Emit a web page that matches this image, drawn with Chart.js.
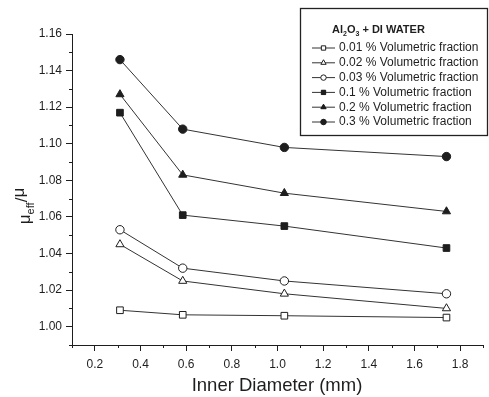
<!DOCTYPE html>
<html>
<head>
<meta charset="utf-8">
<script src="https://cdn.jsdelivr.net/npm/chart.js@4"></script>
<style>
  body { margin: 0; background: #fff; }
  #wrap { width: 489px; height: 397px; }
</style>
</head>
<body>
<div id="wrap"><canvas id="viscChart" width="489" height="397"></canvas></div>
<script>
// inner diameter (mm)
const diameters = [0.31, 0.585, 1.03, 1.74];

// relative viscosity mu_eff / mu
const frac001 = [1.009, 1.0065, 1.006, 1.005];
const frac002 = [1.045, 1.025, 1.018, 1.010];
const frac003 = [1.053, 1.032, 1.025, 1.018];
const frac01 = [1.117, 1.061, 1.055, 1.043];
const frac02 = [1.127, 1.083, 1.073, 1.063];
const frac03 = [1.146, 1.108, 1.098, 1.093];

const seriesLabels = [
    "0.01 % Volumetric fraction",
    "0.02 % Volumetric fraction",
    "0.03 % Volumetric fraction",
    "0.1 % Volumetric fraction",
    "0.2 % Volumetric fraction",
    "0.3 % Volumetric fraction"
];

const xTicks = [0.2, 0.4, 0.6, 0.8, 1.0, 1.2, 1.4, 1.6, 1.8];
const yTicks = [1.00, 1.02, 1.04, 1.06, 1.08, 1.10, 1.12, 1.14, 1.16];
const xMinor = [0.1, 0.3, 0.5, 0.7, 0.9, 1.1, 1.3, 1.5, 1.7, 1.9];
const yMinor = [0.99, 1.01, 1.03, 1.05, 1.07, 1.09, 1.11, 1.13, 1.15];

const ink = "#1e1e1e";
const font = "'Liberation Sans', Arial, sans-serif";

const styles = [
    { shape: "rect", filled: false, r: 4.7 },
    { shape: "triangle", filled: false, r: 4.7 },
    { shape: "circle", filled: false, r: 4.2 },
    { shape: "rect", filled: true, r: 4.7 },
    { shape: "triangle", filled: true, r: 4.7 },
    { shape: "circle", filled: true, r: 4.2 }
];

const allSeries = [frac001, frac002, frac003, frac01, frac02, frac03];

const datasets = allSeries.map((vals, i) => ({
    label: seriesLabels[i],
    data: vals.map((v, j) => ({ x: diameters[j], y: v })),
    borderColor: "#333",
    borderWidth: 1,
    pointStyle: styles[i].shape,
    pointRadius: styles[i].r,
    pointBackgroundColor: styles[i].filled ? ink : "#fff",
    pointBorderColor: ink,
    pointBorderWidth: 1,
    tension: 0
}));

const extras = {
    id: "extras",
    afterDraw(chart) {
        const ctx = chart.ctx;
        const xs = chart.scales.x, ys = chart.scales.y;
        ctx.save();
        ctx.strokeStyle = ink;
        ctx.lineWidth = 1;
        // minor ticks
        ctx.beginPath();
        xMinor.forEach(v => {
            const px = Math.round(xs.getPixelForValue(v)) + 0.5;
            ctx.moveTo(px, xs.top);
            ctx.lineTo(px, xs.top + 3);
        });
        yMinor.forEach(v => {
            const py = Math.round(ys.getPixelForValue(v)) + 0.5;
            ctx.moveTo(ys.right, py);
            ctx.lineTo(ys.right - 3, py);
        });
        ctx.stroke();

        // x title
        ctx.fillStyle = ink;
        ctx.font = "18.5px " + font;
        ctx.textAlign = "center";
        ctx.textBaseline = "middle";
        ctx.fillText("Inner Diameter (mm)", 277, 386);

        // y title: mu_eff / mu, rotated
        ctx.save();
        ctx.translate(25, 206);
        ctx.rotate(-Math.PI / 2);
        ctx.textAlign = "left";
        ctx.textBaseline = "alphabetic";
        ctx.font = "17px " + font;
        const w1 = ctx.measureText("\u03bc").width;
        ctx.font = "11px " + font;
        const w2 = ctx.measureText("eff").width;
        ctx.font = "17px " + font;
        const w3 = ctx.measureText("/\u03bc").width;
        let sx = -(w1 + w2 + w3) / 2;
        ctx.fillText("\u03bc", sx, 5);
        ctx.font = "11px " + font;
        ctx.fillText("eff", sx + w1, 9);
        ctx.font = "17px " + font;
        ctx.fillText("/", sx + w1 + w2, 2);
        ctx.fillText("\u03bc", sx + w1 + w2 + ctx.measureText("/").width, -1);
        ctx.restore();

        // legend box
        const bx = 300, by = 8, bw = 187, bh = 127;
        ctx.strokeStyle = "#222";
        ctx.lineWidth = 1.3;
        ctx.strokeRect(bx + 0.5, by + 0.5, bw, bh);
        ctx.lineWidth = 1;

        // legend title Al2O3 + DI WATER
        ctx.textAlign = "left";
        ctx.textBaseline = "alphabetic";
        let tx = 332;
        const ty = 33;
        const parts = [["Al", 0], ["2", 1], ["O", 0], ["3", 1], [" + DI WATER", 0]];
        parts.forEach(p => {
            ctx.font = p[1] ? "bold 7px " + font : "bold 11px " + font;
            ctx.fillText(p[0], tx, p[1] ? ty + 3 : ty);
            tx += ctx.measureText(p[0]).width;
        });

        // legend entries
        ctx.font = "12px " + font;
        ctx.textBaseline = "middle";
        seriesLabels.forEach((lab, i) => {
            const ly = 48 + i * 14.8;
            ctx.strokeStyle = "#333";
            ctx.beginPath();
            ctx.moveTo(312, ly);
            ctx.lineTo(335, ly);
            ctx.stroke();
            const st = styles[i];
            ctx.fillStyle = st.filled ? ink : "#fff";
            ctx.strokeStyle = ink;
            Chart.helpers.drawPoint(ctx, { pointStyle: st.shape, radius: st.r * 0.65, borderWidth: 1 }, 323.5, ly);
            if (st.filled) ctx.fill();
            ctx.fillStyle = ink;
            ctx.fillText(lab, 339, ly);
        });
        ctx.restore();
    }
};

new Chart(document.getElementById("viscChart"), {
    type: "line",
    data: { datasets: datasets },
    options: {
        responsive: false,
        animation: false,
        layout: { padding: { top: 34, right: 6, left: 0, bottom: 0 } },
        plugins: { legend: { display: false }, tooltip: { enabled: false } },
        scales: {
            x: {
                type: "linear",
                min: 0.1,
                max: 1.9,
                afterBuildTicks: s => { s.ticks = xTicks.map(v => ({ value: v })); },
                afterFit: s => { s.height = 52; },
                grid: { drawOnChartArea: false, drawTicks: true, tickLength: 6, color: ink },
                border: { color: ink, width: 1 },
                ticks: {
                    color: ink, font: { family: font, size: 12 }, padding: 6,
                    maxRotation: 0, autoSkip: false,
                    callback: v => v.toFixed(1)
                }
            },
            y: {
                min: 0.99,
                max: 1.16,
                afterBuildTicks: s => { s.ticks = yTicks.map(v => ({ value: v })); },
                afterFit: s => { s.width = 72; },
                grid: { drawOnChartArea: false, drawTicks: true, tickLength: 6, color: ink },
                border: { color: ink, width: 1 },
                ticks: {
                    color: ink, font: { family: font, size: 12 }, padding: 4,
                    autoSkip: false,
                    callback: v => v.toFixed(2)
                }
            }
        }
    },
    plugins: [extras]
});
</script>
</body>
</html>
